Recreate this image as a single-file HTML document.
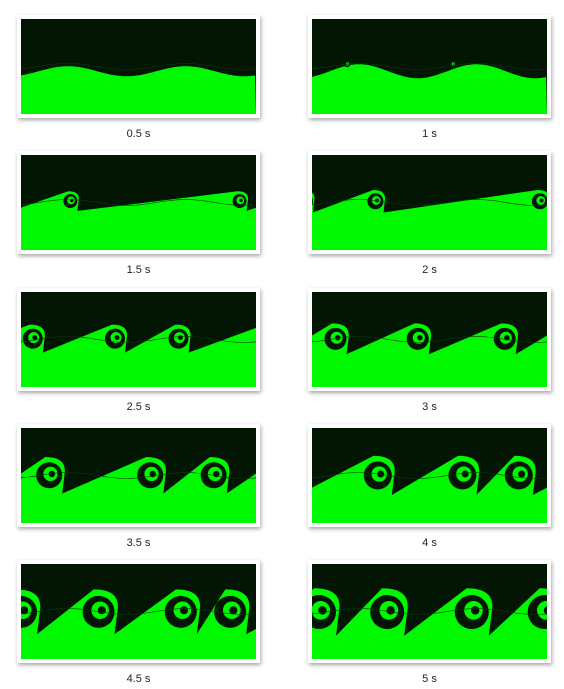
<!DOCTYPE html>
<html><head><meta charset="utf-8"><style>
body{margin:0;width:564px;height:689px;background:#fff;overflow:hidden;font-family:"Liberation Sans",sans-serif;position:relative}
.frame{position:absolute;background:#fff;box-shadow:1px 2px 4px rgba(0,0,0,0.35);padding:4px}
.lbl{position:absolute;font-size:11px;color:#222;text-align:center;width:120px}
svg{display:block}
</style></head><body>
<script>
const times=["0.5 s","1 s","1.5 s","2 s","2.5 s","3 s","3.5 s","4 s","4.5 s","5 s"];
const amplitudes=[5,7,8,9,10,10,10,10,10,10];
const vortexRadius=[0,3,7,8,10,11,13,14,16,17];
const vortexPos=[[],[0.15,0.6],[0.21,0.93],[0.27,0.97],[0.05,0.4,0.67],[0.1,0.45,0.82],[0.12,0.55,0.82],[0.28,0.64,0.88],[0.0,0.33,0.68,0.89],[0.03,0.32,0.68,0.99]];
const W=235,H=95;
const colX=[21,312],rowY=[19,155,292,428,564];
const NS="http://www.w3.org/2000/svg";
const GREEN='#00f800',DARK='#031503';
function mk(tag,attrs){const e=document.createElementNS(NS,tag);for(const k in attrs)e.setAttribute(k,attrs[k]);return e;}
times.forEach((t,i)=>{
  const cx=colX[i%2],cy=rowY[Math.floor(i/2)];
  const f=document.createElement('div');f.className='frame';
  
  
  f.style.left=(cx-4)+'px';f.style.top=(cy-4)+'px';
  const s=mk('svg',{width:W,height:H});
  s.appendChild(mk('rect',{x:0,y:0,width:W,height:H,fill:DARK}));
  const r=vortexRadius[i],A=amplitudes[i];
  const vy=H*0.47;
  // vortex centres incl. wrapped copies that do not duplicate existing ones
  const orig=vortexPos[i].map(p=>p*W);
  const ps=orig.slice();
  orig.forEach(x=>{[x-W,x+W].forEach(xx=>{
    if(orig.every(o=>Math.abs(o-xx)>0.12*W))ps.push(xx);
  });});
  ps.sort((a,b)=>a-b);
  let d;
  if(r<5){
    d='M0,'+H;
    for(let x=0;x<=W;x+=2){
      const y=H*0.55+A*Math.sin((x/W)*4*Math.PI+2.2);
      d+=' L'+x+','+y.toFixed(1);
    }
    d+=' L'+W+','+H+' Z';
  } else {
    d='M'+(-2*W)+','+H;
    ps.forEach(x=>{
      d+=` L${(x-0.3*r).toFixed(1)},${(vy-1.2*r).toFixed(1)} Q${(x+1.3*r).toFixed(1)},${(vy-1.2*r).toFixed(1)} ${(x+1.2*r).toFixed(1)},${vy.toFixed(1)} L${(x+1.0*r).toFixed(1)},${(vy+1.6*r).toFixed(1)}`;
    });
    d+=' L'+(3*W)+','+H+' Z';
  }
  const g=mk('path',{d:d,fill:GREEN});
  
  s.appendChild(g);
  ps.forEach(x=>{
    if(x<-2*r||x>W+2*r||r===0)return;
    const c1=mk('circle',{cx:x,cy:vy+r*0.2,r:r,fill:DARK});
    
    s.appendChild(c1);
    s.appendChild(mk('circle',{cx:x+r*0.1,cy:vy+r*0.1,r:r*0.55,fill:GREEN}));
    s.appendChild(mk('circle',{cx:x+r*0.2,cy:vy+r*0.1,r:r*0.25,fill:DARK}));
  });
  let ld='M0,'+(H*0.5);
  for(let x=0;x<=W;x+=5)ld+=' L'+x+','+(H*0.5+3*Math.sin((x/W)*4*Math.PI+2.2)).toFixed(1);
  s.appendChild(mk('path',{d:ld,fill:'none',stroke:'#0a3a0a','stroke-width':0.6}));
  f.appendChild(s);
  document.body.appendChild(f);
  const l=document.createElement('div');l.className='lbl';
  
  
  l.textContent=t;
  l.style.left=(cx+W/2-60)+'px';l.style.top=(cy+H+14)+'px';
  document.body.appendChild(l);
});
</script>
</body></html>
